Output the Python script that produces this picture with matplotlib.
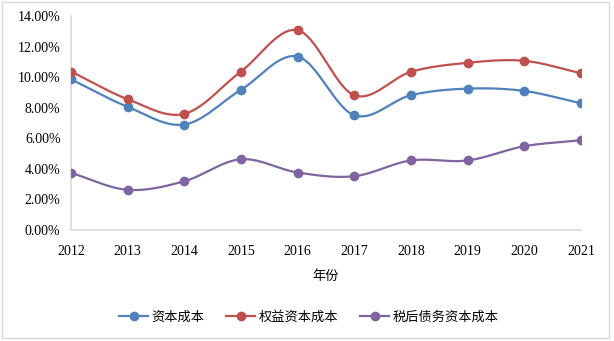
import numpy as np
import matplotlib
matplotlib.use("Agg")
import matplotlib.pyplot as plt
from matplotlib.ticker import FuncFormatter
from matplotlib.patches import Rectangle

years = [2012, 2013, 2014, 2015, 2016, 2017, 2018, 2019, 2020, 2021]
cost_capital = [9.86, 8.06, 6.90, 9.17, 11.35, 7.51, 8.82, 9.25, 9.10, 8.29]
cost_equity = [10.37, 8.56, 7.60, 10.37, 13.07, 8.82, 10.35, 10.94, 11.07, 10.26]
cost_debt = [3.74, 2.63, 3.19, 4.63, 3.76, 3.52, 4.55, 4.55, 5.48, 5.87]
series_names = ["资本成本", "权益资本成本", "税后债务资本成本"]
colors = ["#4F81BD", "#C0504D", "#8064A2"]
yticks = [0, 2, 4, 6, 8, 10, 12, 14]

fonts = ["Liberation Serif", "Noto Sans CJK SC", "DejaVu Sans"]
plt.rcParams["font.family"] = fonts


def smooth(x, y, n=30, tension=0.5):
    # Catmull-Rom style curve through the points (Excel smoothed line look)
    x = np.asarray(x, float)
    y = np.asarray(y, float)
    px = np.concatenate([[2 * x[0] - x[1]], x, [2 * x[-1] - x[-2]]])
    py = np.concatenate([[2 * y[0] - y[1]], y, [2 * y[-1] - y[-2]]])
    xs, ys = [], []
    for i in range(1, len(px) - 2):
        t = np.linspace(0, 1, n, endpoint=(i == len(px) - 3))
        for arr, out in ((px, xs), (py, ys)):
            p0, p1, p2, p3 = arr[i - 1], arr[i], arr[i + 1], arr[i + 2]
            m1 = tension * (p2 - p0)
            m2 = tension * (p3 - p1)
            h00 = 2 * t**3 - 3 * t**2 + 1
            h10 = t**3 - 2 * t**2 + t
            h01 = -2 * t**3 + 3 * t**2
            h11 = t**3 - t**2
            out.extend(h00 * p1 + h10 * m1 + h01 * p2 + h11 * m2)
    return np.array(xs), np.array(ys)


fig = plt.figure(figsize=(6.14, 3.41), dpi=100)
fig.patches.append(Rectangle((0.004, 0.008), 0.988, 0.985, transform=fig.transFigure,
                             fill=False, edgecolor="#D9D9D9", linewidth=1))
ax = fig.add_axes([0.1156, 0.3255, 0.8304, 0.6275])

handles = []
for vals, name, c in zip([cost_capital, cost_equity, cost_debt], series_names, colors):
    sx, sy = smooth(years, vals)
    ax.plot(sx, sy, color=c, linewidth=1.6, zorder=2)
    ax.plot(years, vals, linestyle="none", marker="o", markersize=6, color=c, zorder=3)
    h, = ax.plot([], [], color=c, linewidth=1.6, marker="o", markersize=6, label=name)
    handles.append(h)

ax.set_xlim(years[0], years[-1])
ax.set_ylim(0, 14)
ax.set_yticks(yticks)
ax.yaxis.set_major_formatter(FuncFormatter(lambda v, p: f"{v:.2f}%"))
ax.set_xticks(years)
ax.set_xticklabels([str(y) for y in years])
for s in ["top", "right"]:
    ax.spines[s].set_visible(False)
for s in ["left", "bottom"]:
    ax.spines[s].set_color("#D9D9D9")
    ax.spines[s].set_linewidth(1.2)
ax.tick_params(axis="both", length=0, labelsize=10, colors="black")
ax.tick_params(axis="x", pad=11)
ax.tick_params(axis="y", pad=7.5)
ax.set_xlabel("年份", fontsize=9.5, labelpad=9)

fig.legend(handles=handles, loc="center", bbox_to_anchor=(0.503, 0.07), ncol=3,
           frameon=False, fontsize=9.5, handlelength=2.2, handletextpad=0.25,
           columnspacing=1.65)

fig.savefig("out.png", dpi=100)
